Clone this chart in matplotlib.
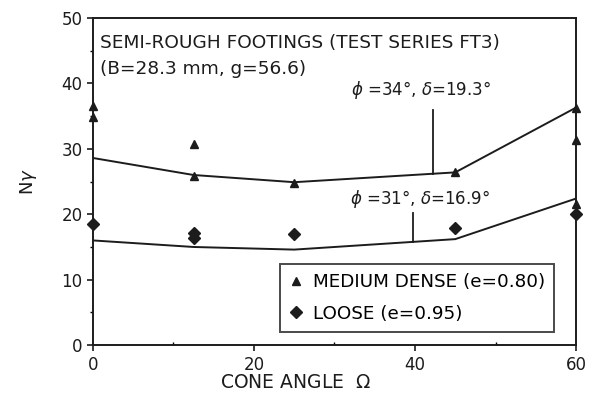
import matplotlib.pyplot as plt

# measured N-gamma values vs cone angle
medium_x = [0, 0, 12.5, 12.5, 25, 45, 60, 60, 60]
medium_y = [36.6, 34.8, 30.7, 25.8, 24.8, 26.4, 36.3, 31.3, 21.6]
loose_x = [0, 12.5, 12.5, 25, 45, 60]
loose_y = [18.5, 17.1, 16.4, 17.0, 17.9, 20.1]

# theoretical curves
upper_x = [0, 12.5, 25, 45, 60]
upper_y = [28.6, 26.0, 24.9, 26.4, 36.3]
lower_x = [0, 12.5, 25, 45, 60]
lower_y = [16.0, 15.0, 14.6, 16.2, 22.4]

ink = '#1c1c1c'
plt.rcParams['font.family'] = ['DejaVu Sans']

fig = plt.figure(figsize=(5.92, 3.99), dpi=100)
ax = fig.add_axes([0.157, 0.135, 0.816, 0.82])

ax.plot(upper_x, upper_y, color=ink, lw=1.4)
ax.plot(lower_x, lower_y, color=ink, lw=1.4)
ax.plot(medium_x, medium_y, '^', color=ink, ms=6, ls='none',
        label='MEDIUM DENSE (e=0.80)', clip_on=False)
ax.plot(loose_x, loose_y, 'D', color=ink, ms=6, ls='none',
        label='LOOSE (e=0.95)', clip_on=False)

# pointer lines for the friction angle labels
ax.plot([42.2, 42.2], [36.0, 26.2], color=ink, lw=1.3)
ax.plot([39.8, 39.8], [20.2, 15.8], color=ink, lw=1.3)
ax.text(40.8, 38.3, r'$\phi$ =34°, $\delta$=19.3°', fontsize=12, ha='center', color=ink)
ax.text(40.6, 21.6, r'$\phi$ =31°, $\delta$=16.9°', fontsize=12, ha='center', color=ink)

ax.text(0.9, 45.4, 'SEMI-ROUGH FOOTINGS (TEST SERIES FT3)', fontsize=13.3, color=ink)
ax.text(0.9, 41.4, '(B=28.3 mm, g=56.6)', fontsize=13.3, color=ink)

ax.set_xlim(0, 60)
ax.set_ylim(0, 50)
ax.set_xticks([0, 20, 40, 60])
ax.set_xticks([10, 30, 50], minor=True)
ax.set_yticks([0, 10, 20, 30, 40, 50])
ax.set_yticks([5, 15, 25, 35, 45], minor=True)
ax.tick_params(which='major', direction='out', length=4, width=1.2,
               labelsize=12, colors=ink)
ax.tick_params(which='minor', direction='out', length=2.5, width=1)
ax.tick_params(axis='x', which='minor', direction='in')
for s in ax.spines.values():
    s.set_linewidth(1.4)
    s.set_color(ink)

ax.set_xlabel(r'CONE ANGLE  $\Omega$', fontsize=13.5, color=ink)
ax.xaxis.set_label_coords(0.42, -0.085)
ax.set_ylabel(r'N$\gamma$', fontsize=13, color=ink, labelpad=16)

leg = ax.legend(loc='lower right', bbox_to_anchor=(0.955, 0.04), fontsize=13.2,
                frameon=True, fancybox=False, edgecolor=ink, handletextpad=0.5,
                handlelength=0.8, borderpad=0.5, labelspacing=0.75,
                borderaxespad=0)
leg.get_frame().set_linewidth(1.4)

fig.savefig('out.png', dpi=100)
